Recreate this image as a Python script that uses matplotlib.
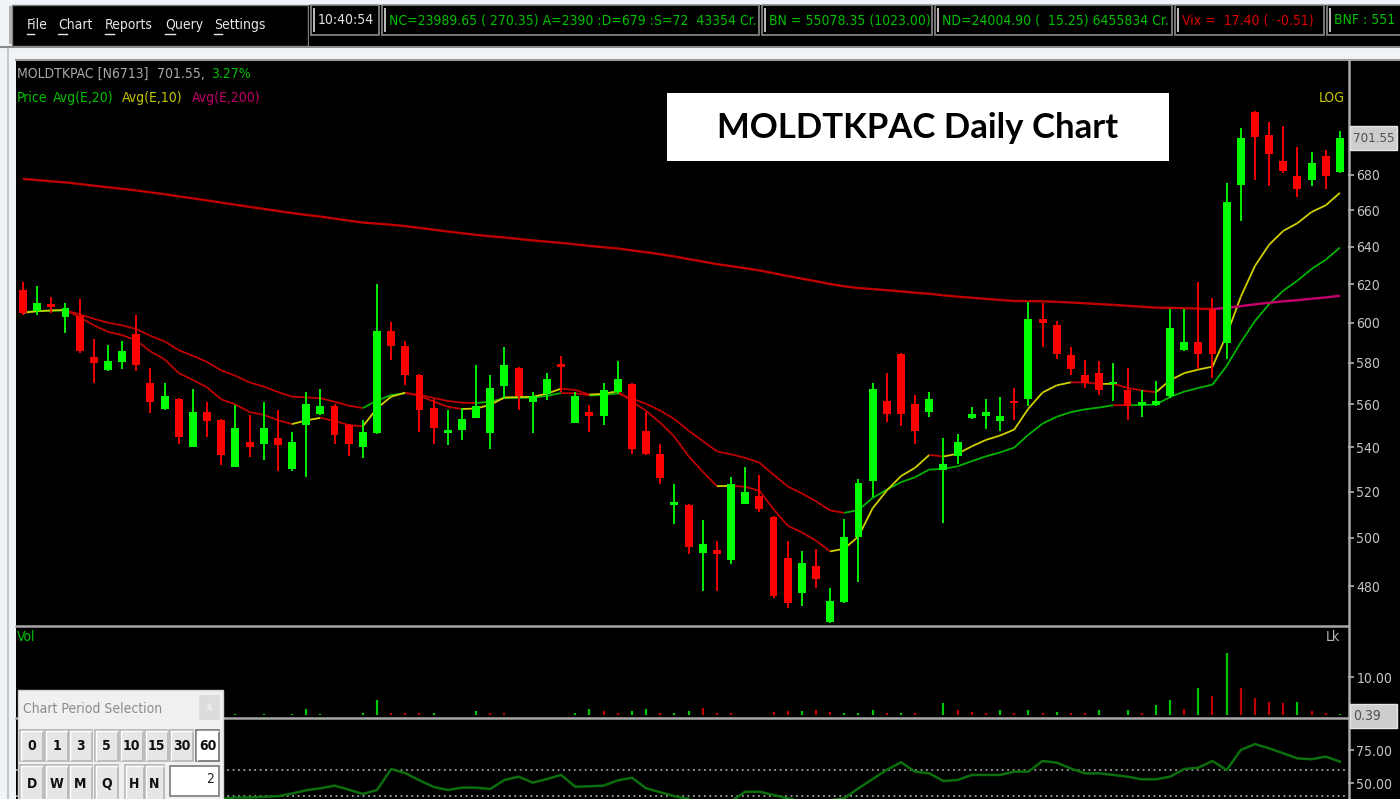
import numpy as np
import pandas as pd
import matplotlib
matplotlib.use("Agg")
import matplotlib.pyplot as plt
from matplotlib.patches import Rectangle
from matplotlib.collections import LineCollection
from matplotlib.ticker import FixedLocator, FixedFormatter, NullLocator

# ---- daily candles ----
opens = [617, 606, 609.5, 603, 603.5, 583, 576.5, 580.5, 594.5, 570,
         557.5, 562.5, 540, 556.5, 552.5, 531, 542.5, 541.5, 544, 530,
         550, 555.5, 559, 550, 540, 546.5, 596, 588.5, 574, 558,
         546.5, 548, 553.5, 546.5, 568.5, 577.5, 561, 565, 578.5, 551,
         556.5, 554.5, 566, 569.5, 547.5, 537, 514, 514, 493.5, 495,
         490.5, 514.5, 518, 509, 491.5, 477, 488, 465.5, 473.5, 500.5,
         524.5, 561.5, 584.5, 560, 556.5, 529.5, 536, 553.5, 554.5, 552,
         561.5, 562.5, 602, 599, 584, 574, 575, 569.5, 566.5, 559.5,
         559.5, 564, 586.5, 590.5, 607, 590, 674.5, 717, 703.5, 688,
         679.5, 677, 691, 681.5]
highs = [621, 619, 613, 610, 612, 592, 589, 591, 604, 577.5,
         570, 563, 567, 561, 553, 559.5, 555, 561, 557, 547,
         566, 567, 560, 550.5, 552.5, 620, 600.5, 591, 574.5, 562.5,
         557, 558, 579, 574, 588, 578, 566, 575, 583.5, 566,
         559.5, 570, 581, 570, 556.5, 541.5, 523.5, 514.5, 507.5, 498.5,
         526.5, 531, 527.5, 509.5, 498.5, 494.5, 495.5, 479, 508, 525.5,
         570, 575, 585, 564.5, 566, 544, 546, 558.5, 562.5, 563.5,
         567.5, 610.5, 610, 601, 588, 581.5, 581, 580, 577.5, 566.5,
         571, 607, 607, 621, 612.5, 675.5, 707.5, 718, 711, 709,
         696.5, 693.5, 694.5, 706]
lows = [604, 604, 605, 595, 585, 570, 576, 577, 576, 556,
        557, 541.5, 540, 544.5, 532, 531, 535.5, 534, 529, 529,
        526.5, 555, 541.5, 536, 535, 546, 581.5, 569, 547, 541.5,
        541, 543, 553.5, 539, 563, 557, 546.5, 562, 566, 551,
        547, 550, 565, 537, 536.5, 523.5, 506, 493, 478, 478,
        489, 514.5, 511, 475, 471, 472, 479, 465, 473, 481.5,
        517.5, 551.5, 549.5, 541.5, 554, 506.5, 532.5, 553, 548.5, 547.5,
        552.5, 559, 588, 582, 574, 567.5, 564.5, 561.5, 552.5, 554,
        559, 563, 586, 577, 572.5, 582, 654, 677, 673.5, 681,
        667.5, 673.5, 672, 681]
closes = [605, 610, 608, 607.5, 586, 580, 581, 586, 579, 561,
          564, 544.5, 556.5, 552, 536.5, 549, 540, 549, 541, 542.5,
          560, 559, 545.5, 541.5, 547, 596, 588.5, 574, 557, 549,
          547.5, 553, 559, 567.5, 579, 564, 564, 572, 578, 564,
          554.5, 566.5, 572, 539, 537, 526, 515.5, 496, 497.5, 493,
          523.5, 520, 512.5, 476, 473, 489.5, 483, 474, 500.5, 524,
          567, 555.5, 555.5, 547.5, 562.5, 532.5, 542.5, 555.5, 556.5, 554.5,
          560.5, 602, 600, 584.5, 577, 570, 566.5, 570, 559, 561,
          561.5, 597.5, 590.5, 584.5, 584.5, 664.5, 701.5, 702.5, 692.5, 682.5,
          672, 687, 679.5, 701.55]

# volume in lakh shares, with the bar colour shown by the terminal
volumes = [0.4, 0.3, 0.2, 0.3, 0.5, 0.3, 0.2, 0.3, 0.4, 0.4,
           0.2, 0.3, 0.3, 0.2, 0.2, 0.15, 0.1, 0.15, 0.1, 0.15,
           1.5, 0.15, 0.1, 0.1, 0.6, 3.9, 0.6, 0.6, 0.6, 0.6,
           0.1, 0.1, 1.1, 0.6, 0.6, 0.1, 0.1, 0.1, 0.1, 0.45,
           1.5, 1.05, 0.6, 1.05, 1.5, 0.45, 0.45, 1.05, 1.75, 0.45,
           0.45, 0.1, 0.1, 0.9, 1.05, 1.05, 1.3, 0.9, 0.45, 0.45,
           1.3, 0.45, 0.45, 0.45, 0.1, 3.1, 1.3, 0.9, 0.45, 1.3,
           0.45, 1.3, 0.45, 0.9, 0.45, 0.45, 1.3, 0.1, 1.3, 0.45,
           2.6, 3.9, 1.5, 7.0, 5.0, 16.4, 7.0, 4.6, 3.5, 3.1,
           3.4, 1.05, 0.6, 0.39]
vol_dirs = ("rgrgrrggrr" "grgrrgrgrg" "ggrrgg" "rrrg" "ggg" "rrrgg" "rg"
            "grrggrggrr" "rrgrrgrrgg" "grgrggrrrg" "rgrgrrgggr"
            "ggrgrgrrrr" "grrg")

# lower oscillator pane
oscillator = [45, 44, 44, 43, 40, 38, 39, 40, 38, 37,
              36, 38, 36, 37, 38, 39, 39, 39.5, 40, 42,
              44.5, 46, 48, 45, 41.7, 44.7, 60.6, 57.5, 52, 47,
              44.7, 46.5, 46.5, 45.5, 52.3, 54.8, 50.3, 53, 56.1, 47.2,
              47.5, 48, 52, 54, 46, 43, 40, 37.9, 33, 32,
              36, 43.4, 43.4, 40.9, 38.4, 36, 35, 37, 38.4, 46,
              53, 60, 65.7, 58.6, 57.3, 51.5, 52.3, 56.1, 56.1, 56.1,
              58.6, 58.6, 66.7, 65.4, 61, 57.3, 57.3, 56.1, 54.8, 52.8,
              52.8, 54.8, 60.6, 61.6, 66.7, 59.8, 75, 79.5, 76.3, 72.5,
              68.7, 68, 70, 66.2]

ema_spans = [20, 10, 200]
ema_seeds = [605.5, 605.0, 678.5]
price_ticks = [480, 500, 520, 540, 560, 580, 600, 620, 640, 660, 680]
vol_ticks = [10]
osc_ticks = [75, 50]
osc_levels = [60, 40]
last_price = 701.55
last_volume = 0.39

W, H = 1400, 799
plt.rcParams['font.family'] = ['DejaVu Sans']
plt.rcParams['font.stretch'] = 'condensed'


def rect(x0, y0, x1, y1):
    return [x0 / W, 1 - y1 / H, (x1 - x0) / W, (y1 - y0) / H]


fig = plt.figure(figsize=(W / 100, H / 100), dpi=100, facecolor='#f0f3f7')
R = fig.canvas.get_renderer()


def text_width(s, size, **kw):
    t = fig.text(0, 0, s, fontsize=size, **kw)
    w = t.get_window_extent(renderer=R).width
    t.remove()
    return w


# one font size for the terminal's text, taken from the width of the NC ticker
UI = min(13, 13 * 366 / text_width("NC=23989.65 ( 270.35) A=2390 :D=679 :S=72  43354 Cr.", 13))


def fit_text(axis, x, y, s, room, color, ha='left', base=None, **kw):
    # the label keeps the common size unless it would run past the room it has
    base = UI if base is None else base
    t = axis.text(x, y, s, color=color, fontsize=base, ha=ha, va='center', **kw)
    w = t.get_window_extent(renderer=R).width
    if w > room:
        t.set_fontsize(base * room / w)
    return t


# background / window chrome in pixel coordinates
bg = fig.add_axes([0, 0, 1, 1], zorder=0)
bg.set_xlim(0, W)
bg.set_ylim(H, 0)
bg.axis('off')
bg.add_patch(Rectangle((16, 60), W - 16, H - 60, fc='black', lw=0))
bg.plot([16, W], [59.5, 59.5], color='#9a9a9a', lw=1.5)
bg.plot([8, 8], [47, H], color='#c5c9cf', lw=1.5)
bg.plot([0, W], [46.5, 46.5], color='#8a8a8a', lw=1.5)

# menu strip
bg.add_patch(Rectangle((12, 5), 296, 41, fc='black', ec='#7a7a7a', lw=1))
bg.add_patch(Rectangle((9, 6), 2.5, 38, fc='#b0b0b0', lw=0))
menu = [("File", 27, 28), ("Chart", 58, 43), ("Reports", 105, 56),
        ("Query", 165, 45), ("Settings", 214, 80)]
for word, mx, room in menu:
    t = fit_text(bg, mx, 25, word, room, '#e6e6e6')
    fw = text_width(word[0], t.get_fontsize())
    bg.plot([mx, mx + fw], [33.5, 33.5], color='#e6e6e6', lw=1)
bg.add_patch(Rectangle((309, 5), W - 309, 41, fc='black', lw=0))

# ticker boxes
boxes = [(311, 379, "10:40:54", '#e0e0e0', 62),
         (382, 759, "NC=23989.65 ( 270.35) A=2390 :D=679 :S=72  43354 Cr.", '#00c000', 370),
         (762, 932, "BN = 55078.35 (1023.00)", '#00c000', 164),
         (935, 1172, "ND=24004.90 (  15.25) 6455834 Cr.", '#00c000', 230),
         (1175, 1324, "Vix =  17.40 (  -0.51)", '#e00000', 142),
         (1327, 1420, "BNF : 551", '#00c000', 64)]
for x0, x1, label, tc, room in boxes:
    bg.add_patch(Rectangle((x0, 5), x1 - x0, 30, fc='black', ec='#8c8c8c', lw=1.2))
    bg.add_patch(Rectangle((x0 + 2, 8), 2, 24, fc='#b8b8b8', lw=0))
    fit_text(bg, x0 + 7, 20, label, room, tc)

# header of the chart
fit_text(bg, 17, 74, "MOLDTKPAC [N6713]", 134, '#a9a9a9')
fit_text(bg, 157, 74, "701.55,", 50, '#a9a9a9')
fit_text(bg, 211, 74, "3.27%", 60, '#00c000')
legend_items = [("Price", 17, 33, '#00c000'), ("Avg(E,20)", 53, 65, '#00c000'),
                ("Avg(E,10)", 122, 66, '#c8c800'), ("Avg(E,200)", 192, 80, '#c0006a')]
for label, lx, room, lc in legend_items:
    fit_text(bg, lx, 98, label, room, lc)
fit_text(bg, 1345, 98, "LOG", 28, '#c8c800', ha='right')

# pane separators and right axis line
bg.plot([16, 1348], [625.5, 625.5], color='#a8a8a8', lw=1.8)
bg.plot([16, 1348], [717.5, 717.5], color='#a8a8a8', lw=1.8)
bg.plot([1348.5, 1348.5], [60, H], color='#a8a8a8', lw=1.8)

tick_size = min(UI, UI * 40 / text_width("75.00", UI))

x = np.arange(len(closes))
xlim = (-0.494, 93.57)


def style_pane(axis, ticks, fmt):
    axis.set_facecolor('none')
    axis.set_xlim(*xlim)
    for s in axis.spines.values():
        s.set_visible(False)
    axis.xaxis.set_major_locator(NullLocator())
    axis.yaxis.set_major_locator(FixedLocator(ticks))
    axis.yaxis.set_major_formatter(FixedFormatter([fmt % v for v in ticks]))
    axis.yaxis.set_minor_locator(NullLocator())
    axis.tick_params(axis='y', left=False, labelleft=False, right=True, labelright=True,
                     direction='out', length=4, width=1.2, color='#b0b0b0',
                     labelcolor='#c4c4c4', labelsize=tick_size, pad=2)


# ---- price pane ----
ax = fig.add_axes(rect(16, 61, 1348, 624), zorder=5)
ax.set_yscale('log')
ax.set_ylim(680 * np.exp(-449 / 1180), 680 * np.exp(114 / 1180))
style_pane(ax, price_ticks, "%d")


def ema(seed, span):
    s = pd.Series([seed] + list(closes))
    return s.ewm(span=span, adjust=False).mean().to_numpy()[1:]


def slope_line(axis, y, up_col, down_col, lw):
    pts = np.column_stack([x, y])
    segs = np.stack([pts[:-1], pts[1:]], axis=1)
    cols = [up_col if y[i + 1] >= y[i] else down_col for i in range(len(y) - 1)]
    axis.add_collection(LineCollection(segs, colors=cols, linewidths=lw, zorder=3))


line_cols = {20: ('#00b400', '#c00000', 1.3),
             10: ('#d0d000', '#c00000', 1.3),
             200: ('#c8006e', '#c00000', 1.7)}
for span, seed in zip(ema_spans, ema_seeds):
    up_c, dn_c, lw = line_cols[span]
    slope_line(ax, ema(seed, span), up_c, dn_c, lw)

o = np.array(opens)
h = np.array(highs)
lo = np.array(lows)
c = np.array(closes)
candle_col = np.where(c >= o, '#00ff00', '#ff0000')
ax.vlines(x, lo, h, colors=candle_col, lw=1.3, zorder=4)
ax.bar(x, np.maximum(np.abs(c - o), 1.2), bottom=np.minimum(o, c), width=0.56,
       color=candle_col, lw=0, zorder=5)

# ---- volume pane ----
av = fig.add_axes(rect(16, 627, 1348, 715), zorder=5)
av.set_ylim(0, 23.2)
style_pane(av, vol_ticks, "%.2f")
vcol = ['#00c800' if d == 'g' else '#c00000' for d in vol_dirs]
av.vlines(x, 0, volumes, colors=vcol, lw=1.6)

# ---- oscillator pane ----
ao = fig.add_axes(rect(16, 719, 1348, 849), zorder=5)
ao.set_ylim(0, 98.5)
style_pane(ao, osc_ticks, "%.2f")
for lev in osc_levels:
    ao.axhline(lev, color='#a0a0a0', lw=1.3, ls=(0, (1, 2)))
ao.plot(x, oscillator, color='#0c6e0c', lw=1.8)

# labels of the lower panes and value boxes
fit_text(bg, 17, 637, "Vol", 30, '#00c000')
fit_text(bg, 1340, 637, "Lk", 20, '#b8b8b8', ha='right')
for yc, val in [(138, "%.2f" % last_price), (716, "%.2f" % last_volume)]:
    bg.add_patch(Rectangle((1350, yc - 12), 47, 24, fc='#cdcdcd', ec='#e6e6e6', lw=1, zorder=6))
    fit_text(bg, 1353, yc, val, 42, '#505050', zorder=7)

# ---- overlay: title box and chart period panel ----
ov = fig.add_axes([0, 0, 1, 1], zorder=20)
ov.set_xlim(0, W)
ov.set_ylim(H, 0)
ov.axis('off')
ov.patch.set_visible(False)
ov.add_patch(Rectangle((667, 93), 502, 68, fc='white', lw=0))
ov.text(918, 128, "MOLDTKPAC Daily Chart", color='black', fontsize=25,
        fontweight='bold', family=['Lato', 'DejaVu Sans'], fontstretch='normal',
        ha='center', va='center')

ov.add_patch(Rectangle((18, 690), 205, 115, fc='#f0f0f0', ec='#d4d4d4', lw=1))
fit_text(ov, 23, 709, "Chart Period Selection", 150, '#8c8c8c')
ov.add_patch(Rectangle((199, 695), 21, 25, fc='#dcdcdc', lw=0))
ov.text(209.5, 707, "x", color='#f4f4f4', fontsize=10, ha='center', va='center')


def button(x0, x1, y0, y1, label, pressed=False):
    ov.add_patch(Rectangle((x0, y0), x1 - x0, y1 - y0, fc='#ffffff' if pressed else '#e6e6e6',
                           ec='#6e6e6e' if pressed else '#b4b4b4', lw=1.2))
    ov.plot([x0 + 1, x0 + 1, x1 - 1], [y1 - 1, y0 + 1, y0 + 1], color='white', lw=1)
    fit_text(ov, (x0 + x1) / 2, (y0 + y1) / 2 + 1, label, x1 - x0 - 5, '#101010',
             ha='center', fontweight='bold')


row1 = ["0", "1", "3", "5", "10", "15", "30", "60"]
row1_x = [20, 45, 69, 95, 120, 145, 170, 196]
for lab, bx in zip(row1, row1_x):
    button(bx, bx + 23, 730, 761, lab, pressed=(lab == "60"))
row2 = ["D", "W", "M", "Q", "H", "N"]
row2_x = [20, 45, 69, 95, 125, 145]
for lab, bx in zip(row2, row2_x):
    button(bx, bx + (19 if lab in "HN" else 23), 765, 800, lab)
ov.add_patch(Rectangle((170, 766), 49, 30, fc='white', ec='#7a7a7a', lw=1.2))
ov.text(214, 779, "2", color='#202020', fontsize=UI, ha='right', va='center')

fig.savefig("out.png", dpi=100, facecolor=fig.get_facecolor())
